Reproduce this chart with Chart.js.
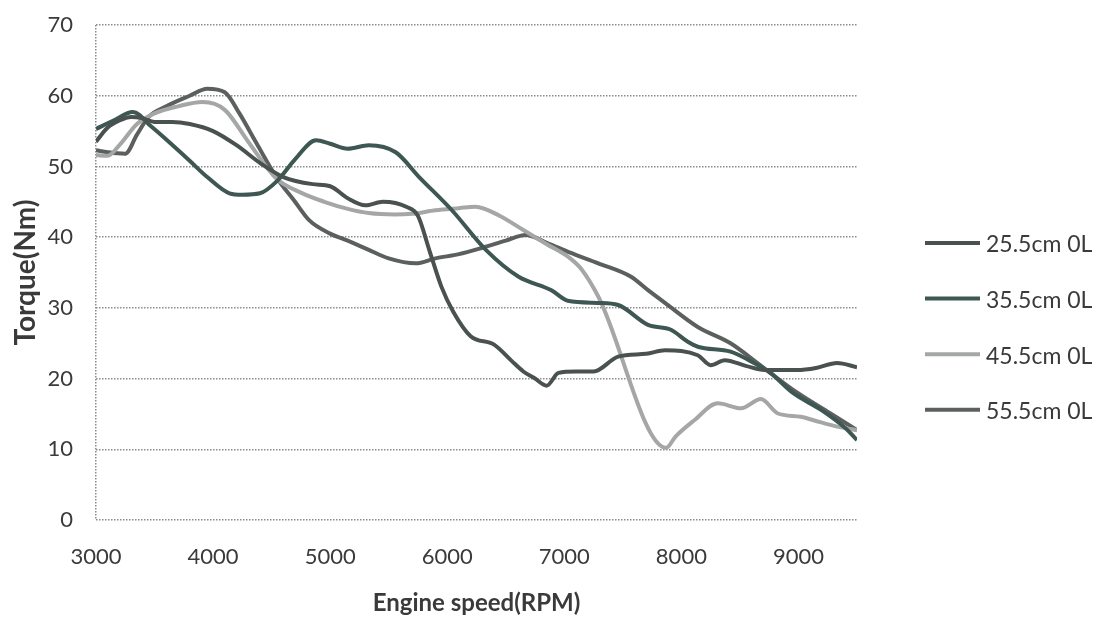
<!DOCTYPE html>
<html><head><meta charset="utf-8">
<script src="https://cdn.jsdelivr.net/npm/chart.js@4.4.1/dist/chart.umd.min.js"></script>
<style>html,body{margin:0;padding:0;background:#fff;}#wrap{width:1109px;height:622px;position:relative;}</style>
</head><body><div id="wrap"><canvas id="c" width="1109" height="622"></canvas></div>
<script>
// ---- data ----
const seriesNames = ['25.5cm 0L', '35.5cm 0L', '45.5cm 0L', '55.5cm 0L'];
const seriesColors = ['#4a5250', '#3e5752', '#a5a7a6', '#5b605e'];

const rpm25 = [3000,3100,3200,3300,3400,3500,3650,3800,4000,4200,4400,4600,4850,5000,5150,5300,5450,5650,5750,5850,5950,6050,6200,6400,6550,6650,6750,6850,6950,7100,7250,7460,7700,7860,8140,8250,8370,8550,8710,8990,9150,9330,9500];
const tq25  = [53.5,55.5,56.5,57.0,56.8,56.3,56.3,56.0,55.0,53.0,50.5,48.5,47.5,47.2,45.5,44.5,45.0,44.3,43.0,38.0,33.0,29.5,26.0,24.8,22.5,21.0,20.0,19.0,20.8,21.0,21.0,23.1,23.5,24.0,23.3,21.9,22.6,21.8,21.2,21.2,21.5,22.2,21.6];

const rpm35 = [3000,3150,3315,3475,3600,3800,3950,4140,4250,4400,4550,4700,4880,5000,5150,5330,5560,5760,6040,6330,6610,6890,7030,7290,7460,7715,7910,8055,8140,8420,8620,8760,8950,9200,9400,9500];
const tq35  = [55.3,56.5,57.7,55.6,53.8,50.8,48.5,46.2,46.0,46.2,48.0,51.0,53.7,53.2,52.5,53.0,52.0,48.5,43.8,38.2,34.4,32.5,31.0,30.7,30.4,27.6,26.9,25.2,24.5,23.8,22.2,20.8,18.0,15.5,13.0,11.3];

const rpm45 = [3000,3100,3200,3350,3500,3700,3910,4100,4300,4540,4750,4950,5150,5330,5550,5700,5900,6100,6240,6450,6650,6850,7050,7150,7290,7870,7950,8110,8310,8510,8680,8820,9020,9130,9330,9500];
const tq45  = [51.6,51.5,53.0,56.0,57.5,58.5,59.1,58.0,53.5,48.3,46.3,45.0,44.0,43.4,43.2,43.3,43.8,44.1,44.3,43.0,41.0,39.0,37.0,35.4,31.6,10.2,11.8,14.1,16.5,15.8,17.1,15.1,14.6,14.1,13.2,12.7];

const rpm55 = [3000,3100,3250,3350,3450,3600,3800,3950,4100,4225,4370,4540,4700,4820,5000,5150,5330,5500,5730,5900,6100,6300,6500,6670,6850,7050,7290,7570,7715,7860,8140,8420,8650,8760,8990,9270,9500];
const tq55  = [52.3,52.0,51.8,54.5,57.0,58.5,60.0,61.0,60.5,57.5,53.3,48.5,45.0,42.4,40.5,39.5,38.2,37.0,36.3,37.0,37.6,38.5,39.5,40.3,39.2,37.8,36.3,34.4,32.5,30.7,27.3,25.0,22.2,20.8,18.0,15.1,12.7];

const xTickValues = [3000,4000,5000,6000,7000,8000,9000];
const yTickValues = [0,10,20,30,40,50,60,70];
const xTitle = 'Engine speed(RPM)';
const yTitle = 'Torque(Nm)';

// ---- build ----
const rpmSets = [rpm25, rpm35, rpm45, rpm55];
const tqSets = [tq25, tq35, tq45, tq55];
const datasets = seriesNames.map((name, i) => ({
  label: name,
  data: rpmSets[i].map((r, k) => ({x: r, y: tqSets[i][k]})),
  borderColor: seriesColors[i],
  backgroundColor: seriesColors[i],
  borderWidth: 4,
  pointRadius: 0,
  cubicInterpolationMode: 'monotone',
  fill: false
}));

const FONT = 'Lato, "Open Sans", sans-serif';
const TXT = '#3a3a3a';

const sideLegend = {
  id: 'sideLegend',
  afterDraw(chart) {
    const ctx = chart.ctx;
    chart.data.datasets.forEach((ds, i) => {
      const y = 243 + i * 55.6;
      ctx.save();
      ctx.strokeStyle = ds.borderColor;
      ctx.lineWidth = 4;
      ctx.beginPath(); ctx.moveTo(925, y); ctx.lineTo(980, y); ctx.stroke();
      ctx.fillStyle = TXT;
      ctx.font = '23px ' + FONT;
      ctx.textBaseline = 'middle';
      ctx.textAlign = 'left';
      ctx.fillText(ds.label, 986, y + 2);
      ctx.restore();
    });
  }
};

function draw() {
  new Chart(document.getElementById('c'), {
    type: 'line',
    data: {datasets},
    options: {
      responsive: false,
      animation: false,
      devicePixelRatio: 1,
      layout: {padding: {left: 0, top: 25, right: 252, bottom: 0}},
      plugins: {legend: {display: false}, tooltip: {enabled: false}},
      scales: {
        x: {
          type: 'linear', min: 3000, max: 9500,
          afterBuildTicks: s => { s.ticks = xTickValues.map(v => ({value: v})); },
          afterFit: s => { s.height = 102; },
          grid: {
            display: true, drawTicks: false, drawOnChartArea: true,
            color: c => (c.tick && c.tick.value === 3000) ? '#8c8c8c' : 'rgba(0,0,0,0)',
            lineWidth: 1.5
          },
          border: {display: false, dash: [1.5, 1.5]},
          ticks: {autoSkip: false, maxRotation: 0, padding: 24, color: TXT, font: {family: FONT, size: 22},
                  callback: v => String(v)},
          title: {display: true, text: xTitle, color: TXT, font: {family: FONT, size: 24, weight: 'bold'}, padding: {top: 0, bottom: 4}}
        },
        y: {
          min: 0, max: 70,
          afterBuildTicks: s => { s.ticks = yTickValues.map(v => ({value: v})); },
          afterFit: s => { s.width = 96; s.paddingTop = 10; s.paddingBottom = 10; },
          grid: {drawTicks: false, color: '#8c8c8c', lineWidth: 1.5},
          border: {display: false, dash: [1.5, 1.5]},
          ticks: {padding: 23, color: TXT, font: {family: FONT, size: 22}, callback: v => String(v)},
          title: {display: true, text: yTitle, color: TXT, font: {family: FONT, size: 28, weight: 'bold'}, padding: {top: 9, bottom: 0}}
        }
      }
    },
    plugins: [sideLegend]
  });
}
if (document.fonts && document.fonts.load) {
  Promise.all([document.fonts.load('22px Lato'), document.fonts.load('bold 24px Lato')]).then(draw, draw);
} else { draw(); }
</script></body></html>
